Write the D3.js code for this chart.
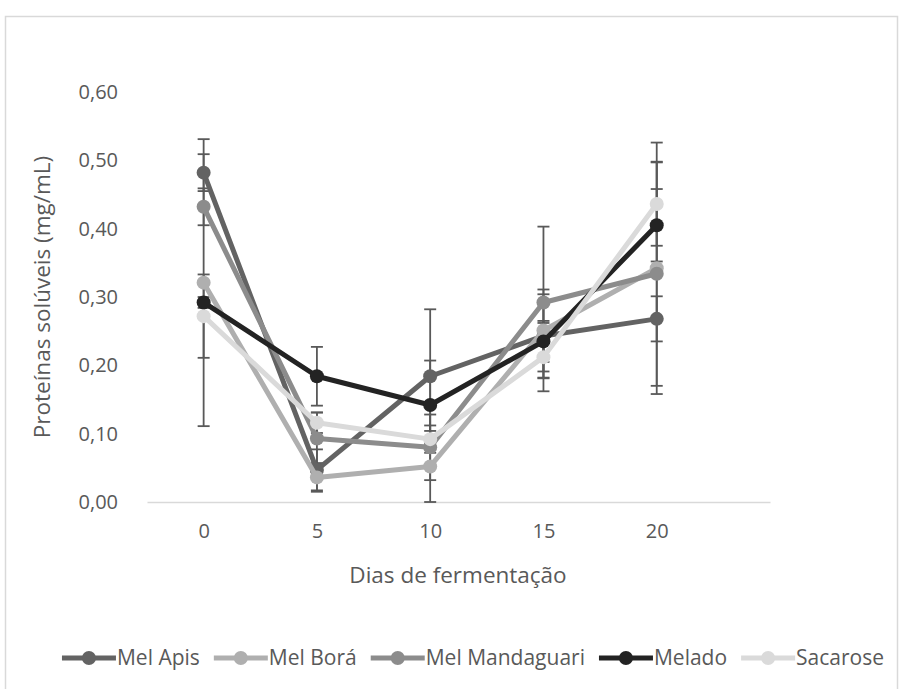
<!DOCTYPE html>
<html lang="pt">
<head>
    <meta charset="UTF-8">
    <title>Proteínas solúveis</title>
    <script src="https://d3js.org/d3.v7.min.js"></script>
    <style>
        body { margin: 0; background: #fff; font-family: 'Open Sans', sans-serif; }
        #chart svg { display: block; }
    </style>
</head>
<body>
    <div id="chart"></div>

    <script>
        // --- Data ---
        const days = [0, 5, 10, 15, 20];
        const seriesNames = ['Mel Apis', 'Mel Borá', 'Mel Mandaguari', 'Melado', 'Sacarose'];
        const melApis = [0.482, 0.047, 0.184, 0.243, 0.268];
        const melBora = [0.321, 0.036, 0.052, 0.251, 0.342];
        const melMandaguari = [0.432, 0.093, 0.080, 0.292, 0.334];
        const melado = [0.292, 0.184, 0.142, 0.235, 0.405];
        const sacarose = [0.272, 0.116, 0.092, 0.212, 0.436];
        // error bar half-widths (±)
        const errApis = [0.027, 0.030, 0.098, 0.061, 0.033];
        const errBora = [0.210, 0.021, 0.052, 0.060, 0.184];
        const errMandaguari = [0.027, 0.038, 0.048, 0.111, 0.164];
        const errMelado = [0.008, 0.043, 0.065, 0.030, 0.053];
        const errSacarose = [0.061, 0.015, 0.020, 0.050, 0.061];
        const yTicks = [0, 0.1, 0.2, 0.3, 0.4, 0.5, 0.6];
        const xTitle = 'Dias de fermentação';
        const yTitle = 'Proteínas solúveis (mg/mL)';

        const colors = ['#636363', '#afafaf', '#8c8c8c', '#232323', '#dadada'];
        const values = [melApis, melBora, melMandaguari, melado, sacarose];
        const errors = [errApis, errBora, errMandaguari, errMelado, errSacarose];

        const series = seriesNames.map((name, i) => ({
            name,
            color: colors[i],
            points: days.map((d, j) => ({ day: d, value: values[i][j], err: errors[i][j] }))
        }));

        // --- Layout ---
        const width = 914, height = 689;
        const x = d3.scaleLinear().domain([-2.5, 25]).range([147, 770]);
        const y = d3.scaleLinear().domain([0, 0.6]).range([502, 92]);
        const textColor = '#595959';
        const fmt = v => d3.format('.2f')(v).replace('.', ',');

        const svg = d3.select('#chart').append('svg')
            .attr('width', width)
            .attr('height', height);

        svg.append('rect').attr('width', width).attr('height', height).attr('fill', '#fff');

        // chart border
        svg.append('rect')
            .attr('x', 5.5).attr('y', 16.5)
            .attr('width', 892).attr('height', 720)
            .attr('fill', 'none')
            .attr('stroke', '#d9d9d9')
            .attr('stroke-width', 1.5);

        // y axis labels (no line)
        svg.append('g').selectAll('text')
            .data(yTicks)
            .enter().append('text')
            .attr('x', 118)
            .attr('y', d => y(d))
            .attr('dy', '0.35em')
            .attr('text-anchor', 'end')
            .attr('font-size', 20)
            .attr('fill', textColor)
            .text(fmt);

        // x axis
        const xAxis = svg.append('g').attr('transform', `translate(0,${y(0)})`)
            .call(d3.axisBottom(x).tickValues(days).tickSize(0).tickPadding(22));
        xAxis.select('.domain').attr('stroke', '#d9d9d9').attr('stroke-width', 1.5);
        xAxis.selectAll('text')
            .attr('font-family', "'Open Sans', sans-serif")
            .attr('font-size', 20)
            .attr('fill', textColor);

        // axis titles
        svg.append('text')
            .attr('x', 458).attr('y', 583)
            .attr('text-anchor', 'middle')
            .attr('font-size', 22.5)
            .attr('fill', textColor)
            .text(xTitle);

        svg.append('text')
            .attr('transform', `translate(42,${(y(0) + y(0.6)) / 2}) rotate(-90)`)
            .attr('text-anchor', 'middle')
            .attr('dy', '0.35em')
            .attr('font-size', 22.5)
            .attr('fill', textColor)
            .text(yTitle);

        // --- Error bars ---
        const errG = svg.append('g')
            .attr('stroke', '#595959')
            .attr('stroke-width', 1.8);
        series.forEach(s => {
            s.points.forEach(p => {
                const lo = y(Math.max(0, p.value - p.err)), hi = y(p.value + p.err), cx = x(p.day);
                errG.append('line').attr('x1', cx).attr('x2', cx).attr('y1', lo).attr('y2', hi);
                errG.append('line').attr('x1', cx - 6).attr('x2', cx + 6).attr('y1', lo).attr('y2', lo);
                errG.append('line').attr('x1', cx - 6).attr('x2', cx + 6).attr('y1', hi).attr('y2', hi);
            });
        });

        // --- Lines and markers ---
        const line = d3.line().x(d => x(d.day)).y(d => y(d.value));
        series.forEach(s => {
            const g = svg.append('g');
            g.append('path')
                .attr('d', line(s.points))
                .attr('fill', 'none')
                .attr('stroke', s.color)
                .attr('stroke-width', 5)
                .attr('stroke-linejoin', 'round');
            g.selectAll('circle')
                .data(s.points)
                .enter().append('circle')
                .attr('cx', d => x(d.day))
                .attr('cy', d => y(d.value))
                .attr('r', 7)
                .attr('fill', s.color);
        });

        // --- Legend ---
        const legend = svg.append('g');
        let lx = 0;
        series.forEach(s => {
            const item = legend.append('g').attr('transform', `translate(${lx},0)`);
            item.append('line')
                .attr('x1', 0).attr('x2', 54)
                .attr('stroke', s.color).attr('stroke-width', 5);
            item.append('circle').attr('cx', 27).attr('r', 7).attr('fill', s.color);
            const t = item.append('text')
                .attr('x', 55)
                .attr('dy', '0.35em')
                .attr('font-size', 21)
                .attr('fill', textColor)
                .text(s.name);
            lx += 55 + t.node().getComputedTextLength() + 14;
        });
        lx -= 14;
        legend.attr('transform', `translate(${473 - lx / 2},658)`);
    </script>
</body>
</html>
